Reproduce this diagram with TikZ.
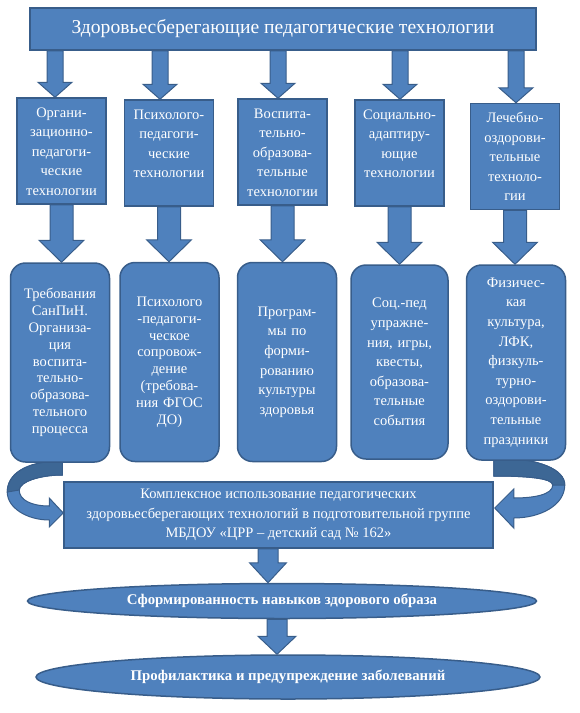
\documentclass[tikz,border=0pt]{standalone}
\usepackage{fontspec}
\setmainfont{Liberation Serif}
\usetikzlibrary{shapes.geometric, calc, backgrounds}

\definecolor{boxblue}{HTML}{4F81BD}
\definecolor{edgeblue}{HTML}{385D8A}
\definecolor{backblue}{HTML}{3D6795}

% text of the upper boxes starts at the top
\newcommand{\toptext}[1]{\parbox[c][96pt][t]{88pt}{\centering\rule{0pt}{14pt}#1}}
% block arrow: start, end, shaft half width, head half width, head length
\newcommand{\fatarrow}[5]{%
  \filldraw[blockarrow] let \p1=#1, \p2=#2 in
    (\x1-#3pt,\y1) -- (\x1-#3pt,\y2+#5pt) -- (\x1-#4pt,\y2+#5pt) -- (\x1,\y2)
    -- (\x1+#4pt,\y2+#5pt) -- (\x1+#3pt,\y2+#5pt) -- (\x1+#3pt,\y1) -- cycle;}

\begin{document}
\begin{tikzpicture}[x=1pt, y=-1pt,
    every node/.style={text=white, font=\fontsize{14.5}{19.6}\selectfont},
    headbox/.style={draw=edgeblue, fill=boxblue, line width=1.5pt, minimum width=506pt, minimum height=42pt, font=\fontsize{19.6}{22}\selectfont},
    techbox/.style={draw=edgeblue, fill=boxblue, line width=1.5pt, inner sep=0pt, minimum width=89pt, minimum height=106pt},
    toolbox/.style={draw=edgeblue, fill=boxblue, line width=1.5pt, rounded corners=15pt, inner sep=0pt, minimum width=99pt, minimum height=199pt, text width=96pt, align=center},
    dense/.style={font=\fontsize{14.5}{16.8}\selectfont},
    resultbox/.style={draw=edgeblue, fill=boxblue, line width=1.5pt, inner sep=0pt, minimum width=429pt, minimum height=66pt, align=center},
    goal/.style={ellipse, draw=edgeblue, fill=boxblue, line width=1.5pt, inner sep=0pt, font=\fontsize{14.8}{17}\selectfont\bfseries},
    blockarrow/.style={fill=boxblue, draw=edgeblue, line width=1pt}]

        \useasboundingbox (0,0) rectangle (580,713);

        % Common
        \node[headbox] (title) at (283,29) {Здоровьесберегающие педагогические технологии};

        % Technologies
        \node[techbox] (org) at (61.5,151) {\toptext{Органи-\\зационно-\\педагоги-\\ческие\\технологии}};
        \node[techbox] (psy) at (169,153) {\toptext{Психолого-\\педагоги-\\ческие\\технологии}};
        \node[techbox] (vosp) at (282.5,152) {\toptext{Воспита-\\тельно-\\образова-\\тельные\\технологии}};
        \node[techbox] (soc) at (399.5,153) {\toptext{Социально-\\адаптиру-\\ющие\\технологии}};
        \node[techbox] (lech) at (515,156.5) {\toptext{Лечебно-\\оздорови-\\тельные\\техноло-\\гии}};

        % Means
        \node[toolbox, dense] (sanpin) at (60,362.5) {Требования\\СанПиН.\\Организа-\\ция\\воспита-\\тельно-\\образова-\\тельного\\процесса};
        \node[toolbox, dense] (soprov) at (169.5,362) {Психолого\\-педагоги-\\ческое\\сопровож-\\дение\\(требова-\\ния ФГОС\\ДО)};
        \node[toolbox] (progr) at (287,362) {Програм-\\мы по\\форми-\\рованию\\культуры\\здоровья};
        \node[toolbox, minimum width=97pt, minimum height=194pt] (igry) at (399.5,362) {Соц.-пед\\упражне-\\ния, игры,\\квесты,\\образова-\\тельные\\события};
        \node[toolbox, minimum height=195pt] (fizk) at (516,362.5) {Физичес-\\кая\\культура,\\ЛФК,\\физкуль-\\турно-\\оздорови-\\тельные\\праздники};

        % Result and goals
        \node[resultbox] (kompl) at (278.5,515) {Комплексное использование педагогических\\здоровьесберегающих технологий в подготовительной группе\\МБДОУ «ЦРР – детский сад № 162»};
        \node[goal, minimum width=509pt, minimum height=35pt] (navyk) at (282,601) {Сформированность навыков здорового образа};
        \node[goal, minimum width=504pt, minimum height=44pt] (profil) at (288,677) {Профилактика и предупреждение заболеваний};

        \begin{scope}[on background layer]
            \foreach \ax/\t in {55/org, 160/psy, 278/vosp, 400/soc, 516/lech}
                \fatarrow{(\ax,0 |- title.south)}{(\ax,0 |- \t.north)}{8}{17}{15};
            \foreach \t/\m in {org/sanpin, psy/soprov, vosp/progr, soc/igry, lech/fizk}
                \fatarrow{(\t.south)}{(\t.south |- \m.north)}{11.5}{22.5}{22};
            \fatarrow{(268,0 |- kompl.south)}{(268,0 |- navyk.north)}{10}{18.5}{20};
            \fatarrow{(277,0 |- navyk.south)}{(277,0 |- profil.north)}{10}{19}{18};

            % Curved arrows into the result
            \begin{scope}[shift={(kompl.west)}]
                \filldraw[blockarrow] (-1,-54) .. controls (-39,-54) and (-56,-40) .. (-56,-23)
                    .. controls (-56,-7) and (-36,5) .. (-14,5) -- (-14,12) -- (0,-2) -- (-14,-17) -- (-14,-9)
                    .. controls (-32,-9) and (-44,-15) .. (-44,-25)
                    .. controls (-44,-33) and (-24,-40) .. (-1,-40) -- cycle;
                \filldraw[blockarrow, fill=backblue] (-1,-54) .. controls (-39,-54) and (-56,-40) .. (-56,-23)
                    -- (-44,-25) .. controls (-44,-33) and (-24,-40) .. (-1,-40) -- cycle;
            \end{scope}
            \begin{scope}[shift={(kompl.east)}]
                \filldraw[blockarrow] (0,-57) .. controls (47,-57) and (71,-45) .. (71,-30)
                    .. controls (71,-10) and (47,3) .. (20,3) -- (20,13) -- (1,-7) -- (20,-26) -- (20,-17)
                    .. controls (39,-17) and (59,-20) .. (59,-30)
                    .. controls (59,-37) and (32,-39) .. (0,-39) -- cycle;
                \filldraw[blockarrow, fill=backblue] (0,-57) .. controls (47,-57) and (71,-45) .. (71,-30)
                    -- (59,-30) .. controls (59,-37) and (32,-39) .. (0,-39) -- cycle;
            \end{scope}
        \end{scope}
    \end{tikzpicture}
\end{document}
